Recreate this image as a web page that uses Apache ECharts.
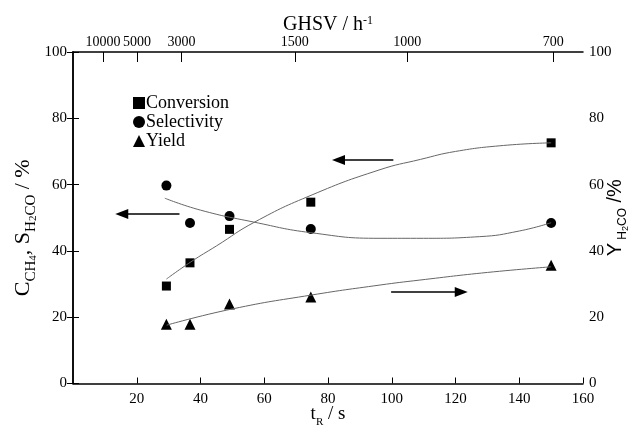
<!DOCTYPE html>
<html lang="en">
<head>
    <meta charset="UTF-8">
    <title>CH4 conversion vs residence time</title>
    <style>
        html, body { margin: 0; padding: 0; background: #fff; }
    </style>
</head>
<body>
    <div id="main" style="width:636px;height:429px;"></div>
<script src="https://cdn.jsdelivr.net/npm/echarts@6/dist/echarts.min.js"></script>
<script>
    // measured points (t_R in s)
    var tR = [29.3, 36.7, 49.1, 74.6, 150];
    var conversion = [29.4, 36.4, 46.5, 54.7, 72.6];
    var selectivity = [59.7, 48.4, 50.5, 46.6, 48.4];
    var yieldH2CO = [17.9, 17.9, 24, 26.1, 35.7];

    // hand drawn trend curves
    var convCurveT = [29.3, 37, 45, 57, 75, 96, 109, 120, 135, 150];
    var convCurve = [31.5, 36.7, 41.5, 48.7, 56.9, 64.4, 67.6, 70, 71.8, 72.6];
    var selCurveT = [28.8, 40, 56.7, 74.6, 96.3, 110, 127.6, 140, 150];
    var selCurve = [55.9, 52.3, 48.7, 45.5, 43.8, 43.8, 44.3, 46, 48.5];
    var yieldCurveT = [29.4, 50, 74.9, 96.3, 108.8, 130, 150];
    var yieldCurve = [17.6, 22.5, 26.7, 29.7, 31.2, 33.5, 35.2];

    // top axis: GHSV tick labels and where they sit on the t_R scale
    var ghsvLabels = ['10000', '5000', '3000', '1500', '1000', '700'];
    var ghsvPos = [9.4, 20.1, 34, 69.6, 104.9, 150.7];

    // arrows [tail t, head t, value]
    var arrows = [
        [33.4, 15.3, 51.1],
        [100.5, 83.3, 67.4],
        [99.8, 121.8, 27.6]
    ];

    var serif = 'Liberation Serif';
    var sans = 'Liberation Sans';

    function zip(xs, ys) {
        return xs.map(function (x, i) { return [x, ys[i]]; });
    }
    function arrowLine(a) {
        return [{ coord: [a[0], a[2]] }, { coord: [a[1], a[2]] }];
    }
    // rich styles for a title with subscripts
    function richSub(font, big, small, tiny) {
        return {
            m: { fontFamily: font, fontSize: big, lineHeight: 25, verticalAlign: 'top', color: '#000' },
            e: { fontFamily: font, fontSize: big, lineHeight: 25, verticalAlign: 'top', color: '#000', padding: [0, 20, 0, 0] },
            s: { fontFamily: font, fontSize: small, lineHeight: small, padding: [12, 0, 0, 0], verticalAlign: 'top', color: '#000' },
            ss: { fontFamily: font, fontSize: tiny, lineHeight: tiny, padding: [16, 0, 0, 0], verticalAlign: 'top', color: '#000' }
        };
    }

    var myChart = echarts.init(document.getElementById('main'));

    var arrowStyle = {
        silent: true,
        symbol: ['none', 'triangle'],
        symbolSize: [10, 13],
        label: { show: false },
        lineStyle: { color: '#000', width: 1.5, type: 'solid' },
        itemStyle: { color: '#000' },
        emphasis: { disabled: true },
        animation: false
    };

    var curveLine = { color: '#666', width: 1 };

    option = {
        animation: false,
        textStyle: { fontFamily: serif, color: '#000' },
        grid: { left: 73, right: 53, top: 52, bottom: 45.5, containLabel: false, outerBoundsMode: 'none' },
        legend: {
            orient: 'vertical',
            left: 128,
            top: 89,
            itemGap: 1,
            itemWidth: 12,
            itemHeight: 12,
            selectedMode: false,
            textStyle: { fontFamily: serif, fontSize: 18, color: '#000', padding: [0, 0, 0, -4] },
            data: [
                { name: 'Conversion', icon: 'rect' },
                { name: 'Selectivity', icon: 'circle' },
                { name: 'Yield', icon: 'triangle' }
            ]
        },
        xAxis: [
            {
                type: 'value',
                position: 'bottom',
                min: 0,
                max: 160,
                interval: 20,
                name: '{m|t}{s|R}{m| / s}',
                nameLocation: 'middle',
                nameMoveOverlap: false,
                nameGap: 21,
                nameTextStyle: { rich: richSub(serif, 19, 11, 9) },
                splitLine: { show: false },
                axisLine: { onZero: false, lineStyle: { color: '#000', width: 1.5 } },
                axisTick: { inside: true, length: 6, lineStyle: { color: '#000' } },
                axisLabel: { showMinLabel: false, fontFamily: serif, fontSize: 15, color: '#000', margin: 8 }
            },
            {
                type: 'value',
                position: 'top',
                min: 0,
                max: 160,
                name: '{m|GHSV / h}{p|-1}',
                nameLocation: 'middle',
                nameMoveOverlap: false,
                nameGap: 15,
                nameTextStyle: {
                    rich: {
                        m: { fontFamily: serif, fontSize: 20, lineHeight: 22, verticalAlign: 'top', color: '#000' },
                        p: { fontFamily: serif, fontSize: 12, lineHeight: 12, padding: [0, 0, 10, 0], verticalAlign: 'top', color: '#000' }
                    }
                },
                splitLine: { show: false },
                axisLine: { onZero: false, lineStyle: { color: '#000', width: 1.5 } },
                axisTick: { inside: true, length: 10, customValues: ghsvPos, lineStyle: { color: '#000' } },
                axisLabel: {
                    customValues: ghsvPos,
                    hideOverlap: false,
                    fontFamily: serif,
                    fontSize: 14,
                    color: '#000',
                    margin: 3,
                    formatter: function (v) {
                        var i = ghsvPos.indexOf(v);
                        return i >= 0 ? ghsvLabels[i] : '';
                    }
                }
            }
        ],
        yAxis: [
            {
                type: 'value',
                position: 'left',
                min: 0,
                max: 100,
                interval: 20,
                name: '{m|C}{s|CH}{ss|4}{m|, S}{s|H}{ss|2}{s|CO}{e| / %}',
                nameLocation: 'middle',
                nameRotate: 90,
                nameMoveOverlap: false,
                nameGap: 36,
                nameTextStyle: { rich: richSub(serif, 22, 15, 11) },
                splitLine: { show: false },
                axisLine: { show: true, lineStyle: { color: '#000', width: 1.5 } },
                axisTick: { show: true, inside: true, length: 6, lineStyle: { color: '#000' } },
                axisLabel: { fontFamily: serif, fontSize: 15, color: '#000', margin: 6 }
            },
            {
                type: 'value',
                position: 'right',
                min: 0,
                max: 100,
                interval: 20,
                name: '{m|Y}{s| H}{ss|2}{s|CO}{m| /%}',
                nameLocation: 'middle',
                nameRotate: 90,
                nameMoveOverlap: false,
                nameGap: 22,
                nameTextStyle: { rich: richSub(sans, 20, 12, 9) },
                splitLine: { show: false },
                axisLine: { show: true, lineStyle: { color: '#000', width: 1.5 } },
                axisTick: { show: true, inside: true, length: 6, lineStyle: { color: '#000' } },
                axisLabel: { fontFamily: serif, fontSize: 15, color: '#000', margin: 6 }
            }
        ],
        series: [
            {
                name: 'convCurve',
                type: 'line',
                smooth: true,
                showSymbol: false,
                silent: true,
                data: zip(convCurveT, convCurve),
                lineStyle: curveLine,
                markLine: Object.assign({ data: [arrowLine(arrows[1])] }, arrowStyle)
            },
            {
                name: 'selCurve',
                type: 'line',
                smooth: true,
                showSymbol: false,
                silent: true,
                data: zip(selCurveT, selCurve),
                lineStyle: curveLine,
                markLine: Object.assign({ data: [arrowLine(arrows[0])] }, arrowStyle)
            },
            {
                name: 'yieldCurve',
                type: 'line',
                yAxisIndex: 1,
                smooth: true,
                showSymbol: false,
                silent: true,
                data: zip(yieldCurveT, yieldCurve),
                lineStyle: curveLine,
                markLine: Object.assign({ data: [arrowLine(arrows[2])] }, arrowStyle)
            },
            {
                name: 'Conversion',
                type: 'scatter',
                symbol: 'rect',
                symbolSize: 9,
                itemStyle: { color: '#000', opacity: 1 },
                data: zip(tR, conversion)
            },
            {
                name: 'Selectivity',
                type: 'scatter',
                symbol: 'circle',
                symbolSize: 10,
                itemStyle: { color: '#000', opacity: 1 },
                data: zip(tR, selectivity)
            },
            {
                name: 'Yield',
                type: 'scatter',
                symbol: 'triangle',
                symbolSize: 11,
                yAxisIndex: 1,
                itemStyle: { color: '#000', opacity: 1 },
                data: zip(tR, yieldH2CO)
            }
        ]
    };
    myChart.setOption(option);
</script>
</body>
</html>
